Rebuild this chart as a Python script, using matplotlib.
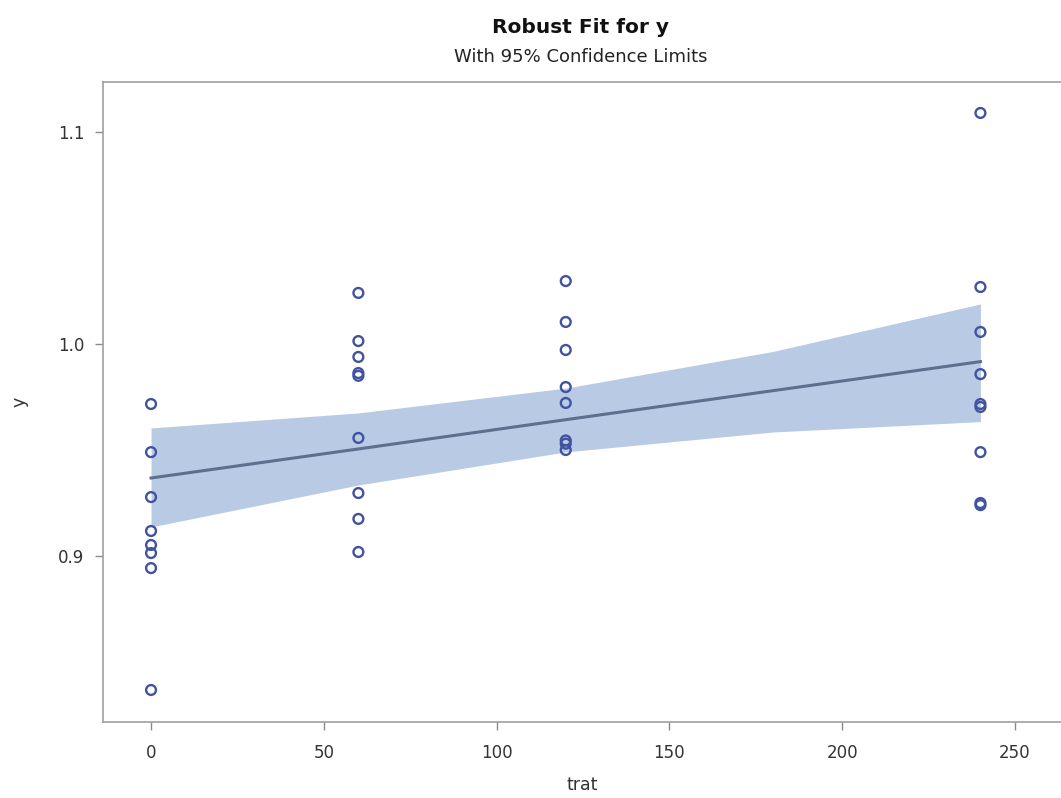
import matplotlib
matplotlib.use("Agg")
import matplotlib.pyplot as plt

# ---- data ----
trat = [0]*8 + [60]*9 + [120]*8 + [240]*9
y = [0.9717, 0.9490, 0.9278, 0.9118, 0.9052, 0.9014, 0.8943, 0.8368,
     1.0241, 1.0014, 0.9939, 0.9863, 0.9850, 0.9557, 0.9297, 0.9175, 0.9019,
     1.0297, 1.0104, 0.9972, 0.9797, 0.9722, 0.9545, 0.9530, 0.9500,
     1.1090, 1.0269, 1.0057, 0.9858, 0.9717, 0.9703, 0.9490, 0.9250, 0.9240]

fit_x = [0, 60, 120, 180, 240]
fit_y = [0.9368, 0.9505, 0.9643, 0.9780, 0.9917]
lcl = [0.9137, 0.9335, 0.9491, 0.9585, 0.9634]
ucl = [0.9604, 0.9675, 0.9792, 0.9965, 1.0189]

xticks = [0, 50, 100, 150, 200, 250]
yticks = [0.9, 1.0, 1.1]
yticklabels = ["0.9", "1.0", "1.1"]

title = "Robust Fit for y"
subtitle = "With 95% Confidence Limits"
xlabel = "trat"
ylabel = "y"

# ---- figure ----
W, H = 1061, 798
fig = plt.figure(figsize=(W/100, H/100), dpi=100)
fig.patch.set_facecolor("white")
plt.rcParams['font.family'] = ['DejaVu Sans']

ax = fig.add_axes([103/W, 76/H, 959/W, 640/H])
ax.set_facecolor("white")

ax.fill_between(fit_x, lcl, ucl, color="#b8cae4", linewidth=0, zorder=1)
ax.plot(fit_x, fit_y, color="#5d6f8c", linewidth=2.2, zorder=2)
ax.scatter(trat, y, s=50, facecolors="none", edgecolors="#41539f",
           linewidths=1.7, zorder=3)

ax.set_xlim(-13.9, 263.6)
ax.set_ylim(0.8217, 1.1236)
ax.set_xticks(xticks)
ax.set_yticks(yticks)
ax.set_yticklabels(yticklabels)

for s in ax.spines.values():
    s.set_color("#a0a0a0")
    s.set_linewidth(1.2)

ax.tick_params(axis="both", direction="out", length=6, width=1,
               color="#8a8a8a", labelcolor="#333333", labelsize=12)
ax.tick_params(axis="x", pad=10)
ax.tick_params(axis="y", pad=7.5)

ax.set_xlabel(xlabel, fontsize=12.5, color="#333333", labelpad=10)
ax.set_ylabel(ylabel, fontsize=12.5, color="#333333", labelpad=21)

fig.text(581/W, 1 - 33/H, title, ha="center", va="baseline",
         fontsize=14.5, fontweight="bold", color="#111111")
fig.text(581/W, 1 - 62/H, subtitle, ha="center", va="baseline",
         fontsize=13, color="#222222")

fig.savefig("out.png", dpi=100, facecolor="white")
